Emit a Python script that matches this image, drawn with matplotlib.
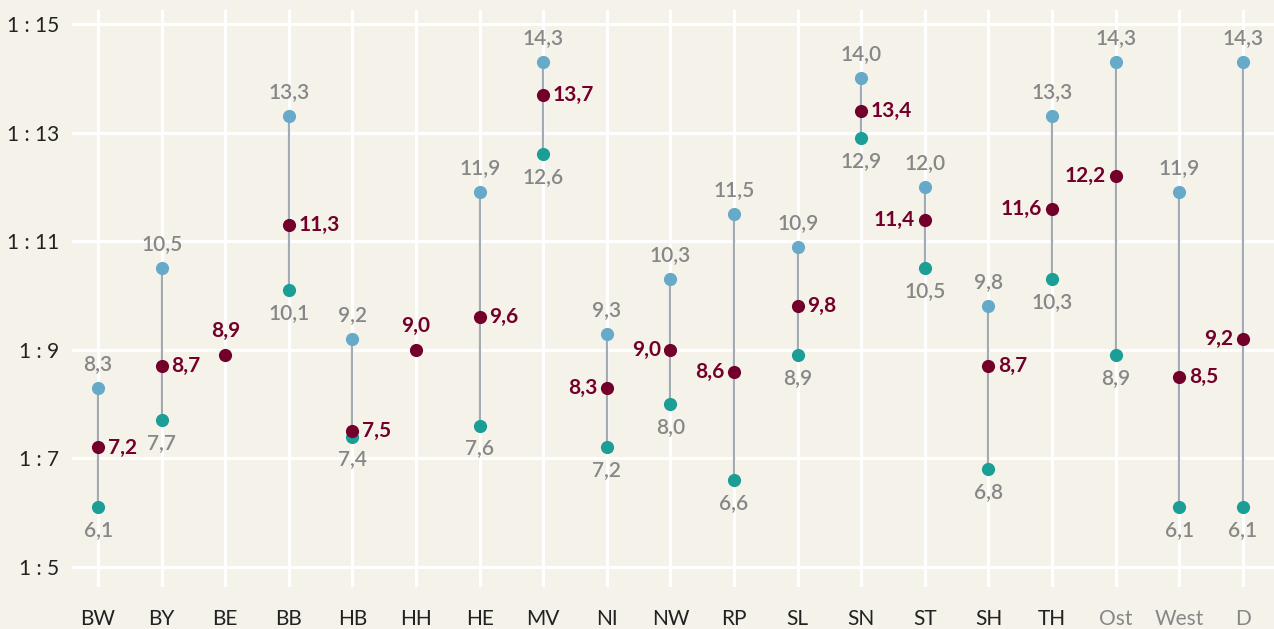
import matplotlib.pyplot as plt
import numpy as np

# Betreuungsschlüssel je Land: höchster, mittlerer, niedrigster Wert
laender = ["BW", "BY", "BE", "BB", "HB", "HH", "HE", "MV", "NI", "NW",
           "RP", "SL", "SN", "ST", "SH", "TH", "Ost", "West", "D"]
maxwert = [8.3, 10.5, None, 13.3, 9.2, None, 11.9, 14.3, 9.3, 10.3,
           11.5, 10.9, 14.0, 12.0, 9.8, 13.3, 14.3, 11.9, 14.3]
mittel = [7.2, 8.7, 8.9, 11.3, 7.5, 9.0, 9.6, 13.7, 8.3, 9.0,
          8.6, 9.8, 13.4, 11.4, 8.7, 11.6, 12.2, 8.5, 9.2]
minwert = [6.1, 7.7, None, 10.1, 7.4, None, 7.6, 12.6, 7.2, 8.0,
           6.6, 8.9, 12.9, 10.5, 6.8, 10.3, 8.9, 6.1, 6.1]
# wo das Label des Mittelwerts steht: r = rechts, l = links, o = oben
seite = ["r", "r", "o", "r", "r", "o", "r", "r", "l", "l",
         "l", "r", "r", "l", "r", "l", "l", "r", "l"]
yticks = [5, 7, 9, 11, 13, 15]

bg = "#f5f2ea"
c_max = "#67a9c9"
c_min = "#1a9e96"
c_mid = "#72002a"
c_line = "#a3aab2"
c_txt = "#878787"

plt.rcParams["font.family"] = ["Lato", "DejaVu Sans"]

fig = plt.figure(figsize=(12.74, 6.29), dpi=100, facecolor=bg)
ax = fig.add_axes([72 / 1274, 42 / 629, 1202 / 1274, 577 / 629], facecolor=bg)

x = np.arange(len(laender))
fmt = lambda v: f"{v:.1f}".replace(".", ",")

for i in x:
    hi, mid, lo = maxwert[i], mittel[i], minwert[i]
    if hi is not None:
        ax.plot([i, i], [lo, hi], color=c_line, lw=1.6, zorder=2)
        ax.scatter(i, hi, s=90, color=c_max, zorder=3, linewidths=0)
        ax.scatter(i, lo, s=90, color=c_min, zorder=3, linewidths=0)
        ax.annotate(fmt(hi), (i, hi), xytext=(0, 10), textcoords="offset points",
                    ha="center", va="bottom", fontsize=15, color=c_txt,
                    fontweight="semibold")
        ax.annotate(fmt(lo), (i, lo), xytext=(0, -9), textcoords="offset points",
                    ha="center", va="top", fontsize=15, color=c_txt,
                    fontweight="semibold")
    ax.scatter(i, mid, s=90, color=c_mid, zorder=4, linewidths=0)
    if seite[i] == "r":
        kw = dict(xytext=(7, 0), ha="left", va="center")
    elif seite[i] == "l":
        kw = dict(xytext=(-7, 0), ha="right", va="center")
    else:
        kw = dict(xytext=(0, 10), ha="center", va="bottom")
    ax.annotate(fmt(mid), (i, mid), textcoords="offset points", fontsize=15,
                color=c_mid, fontweight="bold", **kw)

ax.set_xlim(-0.41, 18.49)
ax.set_ylim(4.63, 15.26)
ax.set_xticks(x)
ax.set_xticklabels(laender, fontsize=15)
ax.set_yticks(yticks)
ax.set_yticklabels([f"1 : {t}" for t in yticks], fontsize=15, color="#222222")
ax.tick_params(axis="x", length=0, pad=16, colors="#222222")
ax.tick_params(axis="y", length=0, pad=9)
for lab in ax.get_xticklabels()[-3:]:
    lab.set_color(c_txt)
ax.grid(True, color="white", lw=2.2, zorder=0)
ax.set_axisbelow(True)
for s in ax.spines.values():
    s.set_visible(False)

fig.savefig("out.png", dpi=100, facecolor=bg)
